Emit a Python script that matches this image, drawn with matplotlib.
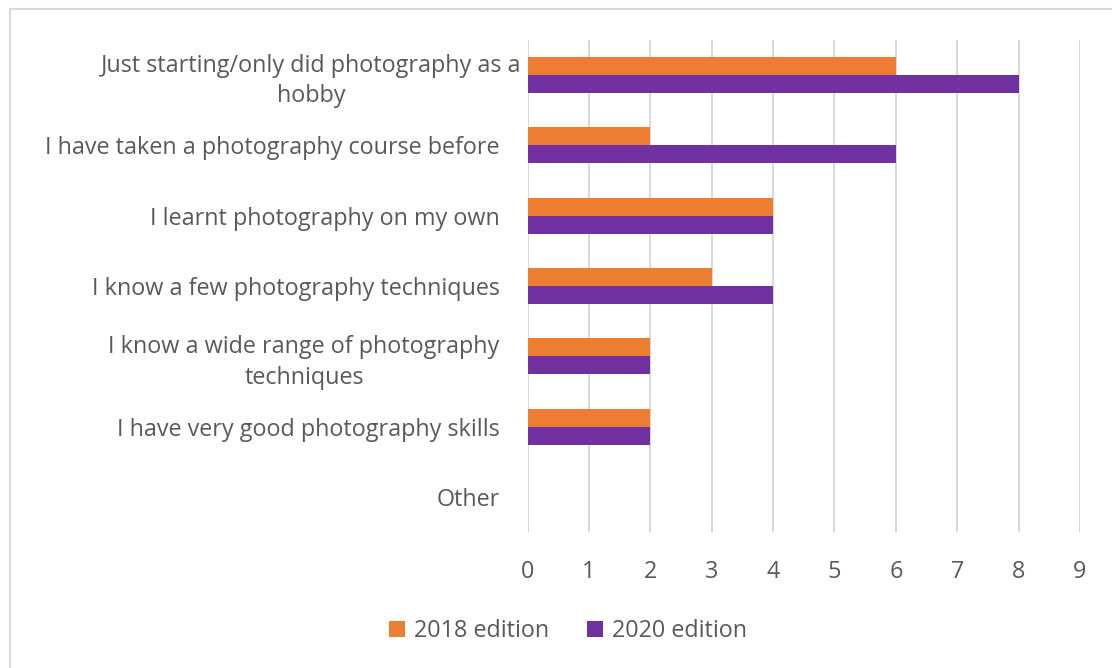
from matplotlib import pyplot as plt
from matplotlib.patches import Rectangle
import matplotlib.transforms as mtransforms
import numpy as np

categories = ["Just starting/only did photography as a\nhobby",
              "I have taken a photography course before",
              "I learnt photography on my own",
              "I know a few photography techniques",
              "I know a wide range of photography\ntechniques",
              "I have very good photography skills",
              "Other"]
edition_2018 = [6, 2, 4, 3, 2, 2, 0]
edition_2020 = [8, 6, 4, 4, 2, 2, 0]
series_names = ["2018 edition", "2020 edition"]
x_ticks = list(range(0, 10))

orange = '#ED7D31'
purple = '#7030A0'
text_col = '#595959'

plt.rcParams['font.family'] = ['Open Sans', 'DejaVu Sans']
fs = 16.8

fig = plt.figure(figsize=(11.12, 6.68), dpi=100)
ax = fig.add_axes([527.5/1112, 1-532/668, (1080-527.5)/1112, (532-40)/668])

# outer chart border (only top/left visible in the crop)
fig.patches.append(Rectangle((10/1112, -0.1), 1.2, 1-9/668+0.1, transform=fig.transFigure,
                             fill=False, edgecolor='#D9D9D9', linewidth=1.5))

y = np.arange(len(categories))
h = 0.256
ax.barh(y - h/2, edition_2018, height=h, color=orange, label=series_names[0], zorder=3)
ax.barh(y + h/2, edition_2020, height=h, color=purple, label=series_names[1], zorder=3)

ax.set_ylim(len(categories) - 0.5, -0.5)
ax.set_xlim(0, 9)
ax.set_xticks(x_ticks)
ax.grid(True, axis='x', color='#D9D9D9', linewidth=1.5, zorder=0)
for s in ax.spines.values():
    s.set_visible(False)
ax.tick_params(axis='both', length=0, colors=text_col, labelsize=fs)
ax.tick_params(axis='x', pad=20)
ax.tick_params(axis='y', pad=20)
ax.set_yticks(y)
ax.set_yticklabels(categories, multialignment='center', linespacing=1.35)
# first label is wider and sits closer to the axis
lbl = ax.get_yticklabels()[0]
lbl.set_transform(lbl.get_transform() + mtransforms.ScaledTranslation(22/100, 0, fig.dpi_scale_trans))

handles, labels = ax.get_legend_handles_labels()
leg = fig.legend(handles, labels, loc='center', bbox_to_anchor=(568/1112, 1-631/668), ncol=2,
                 frameon=False, fontsize=fs, handlelength=0.7, handleheight=0.7,
                 handletextpad=0.4, columnspacing=1.6)
for t in leg.get_texts():
    t.set_color(text_col)

fig.savefig('out.png', dpi=100)
